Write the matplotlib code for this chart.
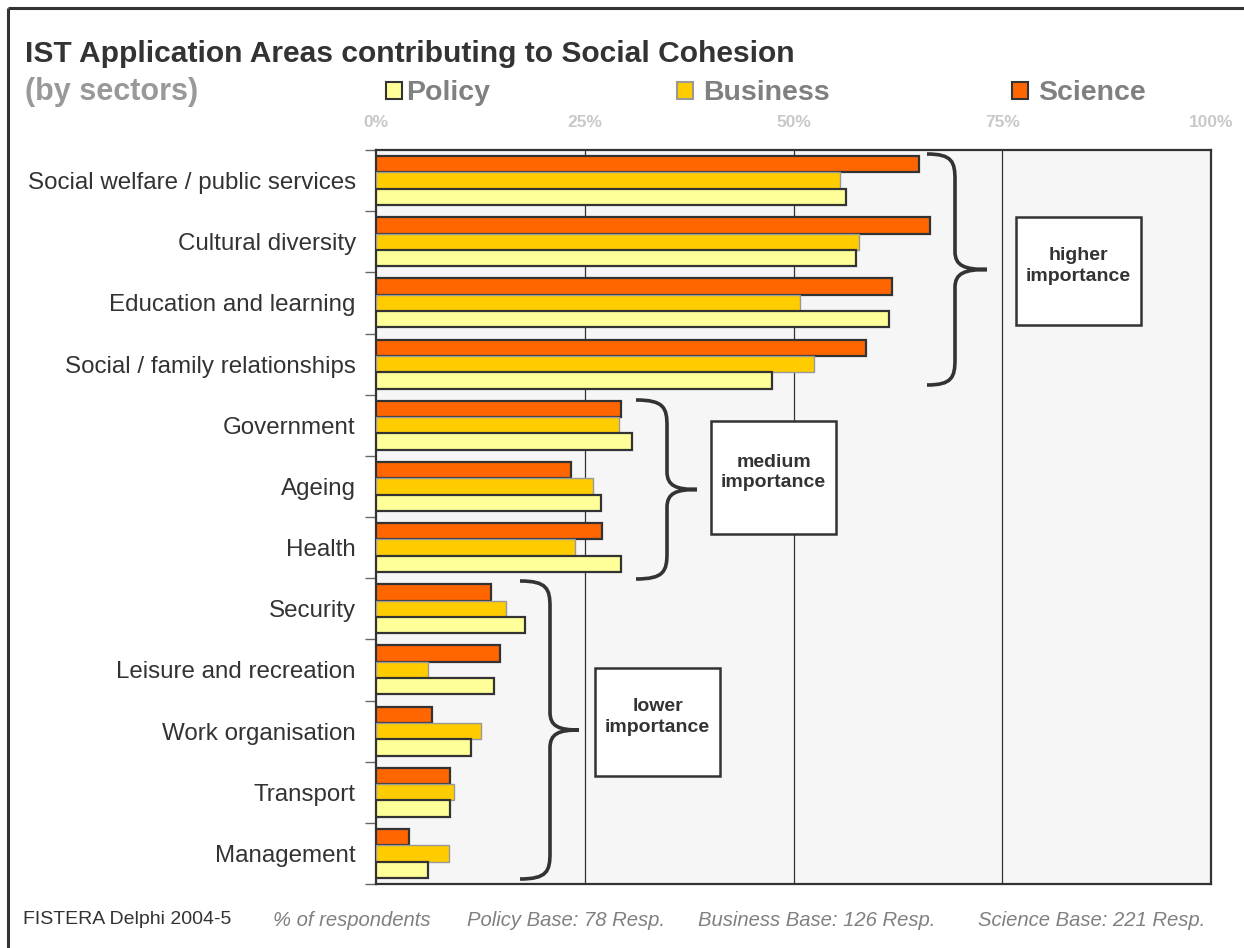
import matplotlib.pyplot as plt
import numpy as np
from matplotlib.patches import Rectangle, PathPatch
from matplotlib.path import Path

plt.rcParams['font.family'] = ['Liberation Sans', 'DejaVu Sans']

# data (% of respondents)
categories = ['Social welfare / public services', 'Cultural diversity', 'Education and learning',
              'Social / family relationships', 'Government', 'Ageing', 'Health', 'Security',
              'Leisure and recreation', 'Work organisation', 'Transport', 'Management']
science = [65.0, 66.4, 61.8, 58.7, 29.4, 23.3, 27.1, 13.8, 14.8, 6.7, 8.9, 4.0]
business = [55.6, 57.8, 50.8, 52.4, 29.1, 26.0, 23.8, 15.6, 6.2, 12.6, 9.3, 8.7]
policy = [56.3, 57.5, 61.4, 47.4, 30.7, 26.9, 29.4, 17.9, 14.1, 11.4, 8.9, 6.2]
xticks = [0, 25, 50, 75, 100]
xtick_labels = ['0%', '25%', '50%', '75%', '100%']
series_names = ['Policy', 'Business', 'Science']
series_colors = ['#FFFF99', '#FFCC00', '#FF6600']
series_edges = ['#333333', '#999999', '#333333']
footer = ['% of respondents', 'Policy Base: 78 Resp.', 'Business Base: 126 Resp.',
          'Science Base: 221 Resp.']

W, H = 1244, 948
fig = plt.figure(figsize=(W / 100, H / 100), dpi=100)
fig.patch.set_facecolor('white')

# main plot area in pixel terms
L, R, T, B = 376, 1211, 150, 884
ax = fig.add_axes([L / W, 1 - B / H, (R - L) / W, (B - T) / H])
ax.set_facecolor('#F6F6F6')

y = np.arange(len(categories))
h = 0.267
ax.barh(y - h, science, height=h, color=series_colors[2], edgecolor=series_edges[2], linewidth=1.6, zorder=3)
ax.barh(y, business, height=h, color=series_colors[1], edgecolor=series_edges[1], linewidth=1.0, zorder=3)
ax.barh(y + h, policy, height=h, color=series_colors[0], edgecolor=series_edges[0], linewidth=1.6, zorder=3)

for gx in xticks[1:-1]:
    ax.axvline(gx, color='#333333', linewidth=0.9, zorder=1)

ax.set_xlim(0, 100)
ax.set_ylim(len(categories) - 0.5, -0.5)
ax.xaxis.tick_top()
ax.set_xticks(xticks)
ax.set_xticklabels(xtick_labels, fontsize=12.5, fontweight='bold', color='#C8C8C8')
ax.tick_params(axis='x', length=0, pad=14.5)
ax.set_yticks(y)
ax.set_yticklabels(categories, fontsize=17.4, color='#333333')
ax.set_yticks(np.arange(-0.5, len(categories), 1), minor=True)
ax.tick_params(axis='y', which='major', length=0, pad=14.5)
ax.tick_params(axis='y', which='minor', length=8, width=1, color='#666666')
for s in ax.spines.values():
    s.set_color('#333333')
    s.set_linewidth(1.6)

# overlay in pixel coordinates for frame, title, legend, braces, boxes
ov = fig.add_axes([0, 0, 1, 1], zorder=5)
ov.set_xlim(0, W)
ov.set_ylim(H, 0)
ov.axis('off')
ov.patch.set_alpha(0)

ov.plot([8, W], [8, 8], color='#333333', linewidth=2.2, solid_capstyle='butt')
ov.plot([8, 8], [8, H], color='#333333', linewidth=2.2, solid_capstyle='butt')

ov.text(25, 62, 'IST Application Areas contributing to Social Cohesion', fontsize=21.6,
        fontweight='bold', color='#333333', va='baseline', ha='left')
ov.text(25, 100, '(by sectors)', fontsize=22, fontweight='bold', color='#999999',
        va='baseline', ha='left')

leg_sq = [386, 677, 1012]
leg_tx = [406, 703, 1038]
for name, c, e, sx, tx in zip(series_names, series_colors, series_edges, leg_sq, leg_tx):
    ov.add_patch(Rectangle((sx, 82), 16, 17, facecolor=c, edgecolor=e, linewidth=1.5))
    ov.text(tx, 100, name, fontsize=20.5, fontweight='bold', color='#808080',
            va='baseline', ha='left')


def brace(x0, xv, xt, yt, yb, r1=26, r2=18):
    ym = (yt + yb) / 2
    verts = [(x0, yt), (x0 + (xv - x0) * 0.9, yt), (xv, yt + r1 * 0.3), (xv, yt + r1),
             (xv, ym - r2),
             (xv, ym - r2 * 0.2), (xv + (xt - xv) * 0.3, ym), (xt, ym),
             (xv + (xt - xv) * 0.3, ym), (xv, ym + r2 * 0.2), (xv, ym + r2),
             (xv, yb - r1),
             (xv, yb - r1 * 0.3), (x0 + (xv - x0) * 0.9, yb), (x0, yb)]
    codes = [Path.MOVETO, Path.CURVE4, Path.CURVE4, Path.CURVE4, Path.LINETO,
             Path.CURVE4, Path.CURVE4, Path.CURVE4, Path.CURVE4, Path.CURVE4, Path.CURVE4,
             Path.LINETO, Path.CURVE4, Path.CURVE4, Path.CURVE4]
    ov.add_patch(PathPatch(Path(verts, codes), facecolor='none', edgecolor='#333333',
                           linewidth=2.6, capstyle='butt'))


brace(927, 955, 987, 154, 385)
brace(636, 667, 697, 400, 579)
brace(520, 550, 579, 581, 879)

boxes = [(1016, 217, 1141, 325, 'higher\nimportance'),
         (711, 421, 836, 534, 'medium\nimportance'),
         (595, 668, 720, 776, 'lower\nimportance')]
for x0, y0, x1, y1, lab in boxes:
    ov.add_patch(Rectangle((x0, y0), x1 - x0, y1 - y0, facecolor='white',
                           edgecolor='#333333', linewidth=1.8))
    ov.text((x0 + x1) / 2, (y0 + y1) / 2 - 5, lab, fontsize=14, fontweight='bold',
            color='#333333', ha='center', va='center', linespacing=1.3)

ov.text(23, 920, 'FISTERA Delphi 2004-5', fontsize=14, color='#333333', va='center', ha='left')
for xpos, txt in zip([273, 467, 698, 978], footer):
    ov.text(xpos, 920, txt, fontsize=14.6, style='italic', color='#808080', va='center', ha='left')

fig.savefig('out.png', dpi=100)
